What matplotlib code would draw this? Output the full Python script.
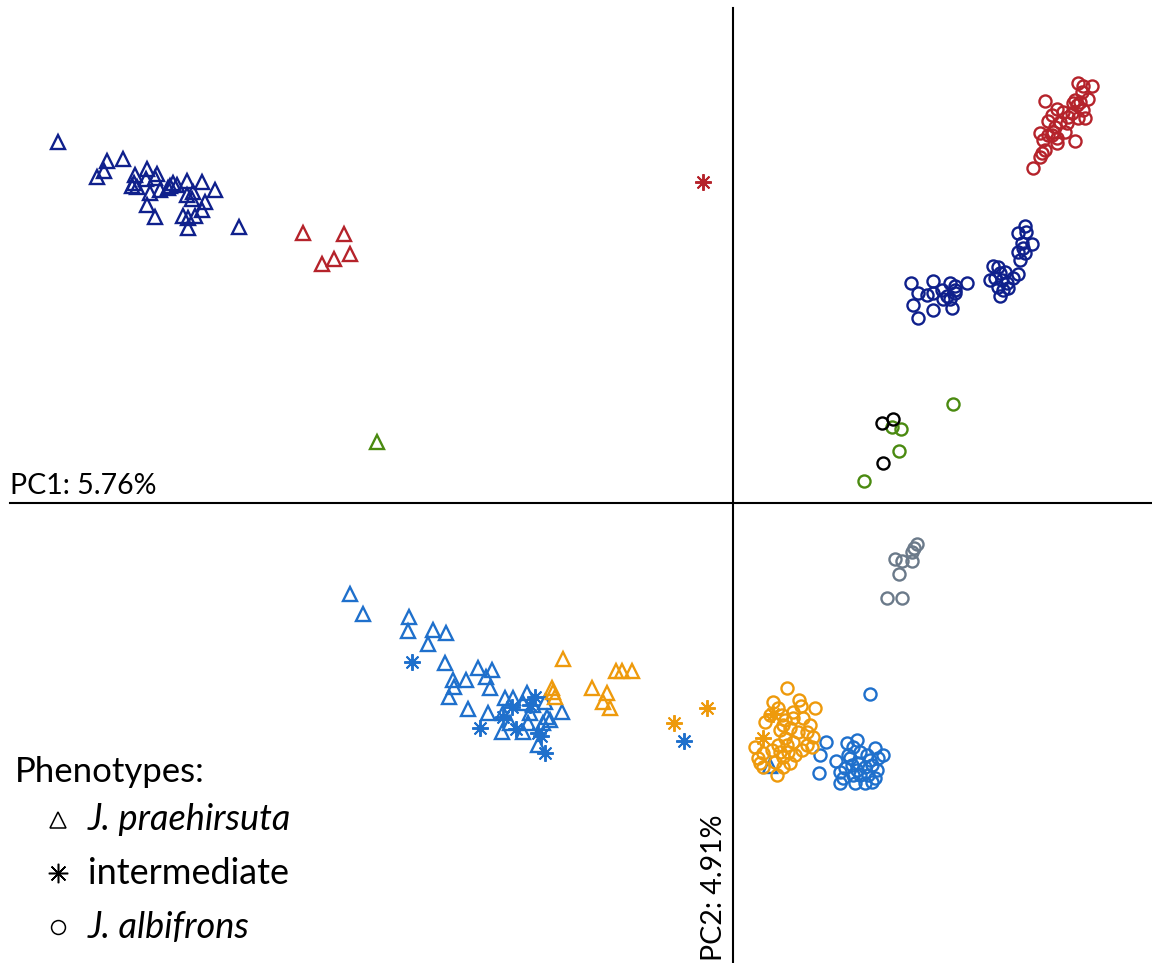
import numpy as np
import matplotlib

matplotlib.use('Agg')
import matplotlib.pyplot as plt

plt.rcParams['font.family'] = ['Lato', 'DejaVu Sans']

# PCA scores, grouped by population colour and phenotype marker
navy_tri_x = [-6.75, -6.26, -6.10, -6.29, -6.36, -5.98, -5.86, -5.76, -5.99, -5.96, -6.01, -5.87,
              -5.78, -5.73, -5.83, -5.65, -5.60, -5.56, -5.46, -5.31, -5.18, -5.40, -5.46, -5.41,
              -5.28, -5.31, -5.86, -5.78, -5.50, -5.45, -5.38, -5.45, -4.94, -5.63]
navy_tri_y = [3.61, 3.42, 3.44, 3.32, 3.26, 3.28, 3.34, 3.29, 3.20, 3.16, 3.17, 3.24,
              3.25, 3.13, 3.10, 3.15, 3.20, 3.18, 3.22, 3.21, 3.13, 3.11, 3.08, 3.04,
              3.01, 2.93, 2.98, 2.86, 2.87, 2.85, 2.87, 2.75, 2.76, 3.17]

red_tri_x = [-4.30, -3.89, -3.83, -3.99, -4.11]
red_tri_y = [2.70, 2.69, 2.49, 2.44, 2.39]
red_ast_x = [-0.30]
red_ast_y = [3.21]
green_tri_x = [-3.56]
green_tri_y = [0.61]

red_circ_x = [3.45, 3.50, 3.59, 3.49, 3.55, 3.12, 3.42, 3.47, 3.44, 3.24, 3.50, 3.30,
              3.39, 3.19, 3.35, 3.52, 3.45, 3.15, 3.27, 3.34, 3.22, 3.32, 3.20, 3.07,
              3.15, 3.24, 3.10, 3.42, 3.24, 3.12, 3.09, 3.07, 3.00, 3.40, 3.19]
red_circ_y = [4.20, 4.17, 4.17, 4.11, 4.04, 4.02, 4.03, 4.01, 3.98, 3.94, 3.93, 3.91,
              3.90, 3.88, 3.86, 3.85, 3.85, 3.82, 3.81, 3.80, 3.76, 3.71, 3.71, 3.70,
              3.68, 3.65, 3.63, 3.62, 3.60, 3.53, 3.50, 3.46, 3.35, 4.00, 3.68]

navy_circ_x = [2.92, 2.85, 2.93, 2.89, 2.99, 2.85, 2.92, 2.87, 2.90,
               2.60, 2.65, 2.57, 2.67, 2.72, 2.85, 2.80, 2.69, 2.74, 2.65, 2.75, 2.70, 2.67, 2.62,
               1.78, 2.00, 2.34, 2.17, 2.22, 1.85, 1.94, 2.00, 2.09, 2.14, 2.22, 2.10, 2.17,
               1.80, 2.00, 2.19, 1.85, 2.22]
navy_circ_y = [2.77, 2.70, 2.71, 2.60, 2.59, 2.51, 2.50, 2.43, 2.55,
               2.37, 2.36, 2.23, 2.30, 2.31, 2.29, 2.25, 2.23, 2.20, 2.16, 2.15, 2.13, 2.07, 2.25,
               2.20, 2.22, 2.20, 2.20, 2.17, 2.10, 2.08, 2.10, 2.13, 2.07, 2.10, 2.04, 2.04,
               1.98, 1.93, 1.95, 1.85, 2.13]

green_circ_x = [2.20, 1.59, 1.68, 1.66, 1.31]
green_circ_y = [0.99, 0.76, 0.74, 0.52, 0.22]
black_circ_x = [1.49, 1.60, 1.50]
black_circ_y = [0.80, 0.84, 0.40]

grey_circ_x = [1.84, 1.81, 1.79, 1.62, 1.69, 1.79, 1.66, 1.54, 1.69]
grey_circ_y = [-0.41, -0.45, -0.49, -0.56, -0.58, -0.58, -0.71, -0.95, -0.95]

blue_tri_x = [-3.83, -3.70, -3.24, -3.25, -3.00, -2.87, -3.05, -2.88, -2.55, -2.41, -2.47, -2.80,
              -2.67, -2.79, -2.43, -2.84, -2.28, -2.20, -2.06, -2.10, -1.88, -2.65, -2.45, -2.30,
              -2.03, -1.86, -1.71, -1.90, -2.05, -2.31, -2.10, -1.95, -1.83, -2.00, -2.23, 0.37]
blue_tri_y = [-0.91, -1.11, -1.14, -1.28, -1.27, -1.30, -1.41, -1.60, -1.65, -1.67, -1.74, -1.77,
              -1.77, -1.84, -1.85, -1.94, -1.95, -1.95, -1.90, -2.00, -1.99, -2.06, -2.10, -2.10,
              -2.10, -2.14, -2.09, -2.20, -2.20, -2.29, -2.29, -2.42, -2.17, -2.02, -2.20, -2.63]
blue_ast_x = [-3.21, -2.21, -2.30, -2.53, -2.17, -2.03, -1.98, -1.95, -1.92, -1.88, -0.49]
blue_ast_y = [-1.59, -2.04, -2.14, -2.25, -2.26, -2.02, -1.94, -2.30, -2.33, -2.50, -2.38]
blue_circ_x = [1.37, 0.93, 0.87, 1.03, 0.86, 1.14, 1.24, 1.20, 1.15, 1.27, 1.34, 1.42,
               1.50, 1.45, 1.07, 1.12, 1.19, 1.25, 1.32, 1.39, 1.44, 1.20, 1.27, 1.35,
               1.42, 1.07, 1.22, 1.32, 1.39, 1.17, 1.24, 1.10, 1.37]
blue_circ_y = [-1.91, -2.39, -2.52, -2.58, -2.70, -2.40, -2.37, -2.44, -2.52, -2.49, -2.52, -2.45,
               -2.52, -2.55, -2.69, -2.65, -2.62, -2.60, -2.64, -2.62, -2.67, -2.72, -2.72, -2.72,
               -2.75, -2.80, -2.80, -2.80, -2.79, -2.55, -2.67, -2.75, -2.57]

orange_tri_x = [-1.70, -1.17, -1.11, -1.01, -1.81, -1.80, -1.78, -1.41, -1.26, -1.30, -1.23]
orange_tri_y = [-1.56, -1.68, -1.68, -1.68, -1.85, -1.89, -1.94, -1.85, -1.90, -1.99, -2.05]
orange_ast_x = [-0.59, -0.26, 0.40, 0.30]
orange_ast_y = [-2.20, -2.05, -2.11, -2.35]
orange_circ_x = [0.54, 0.40, 0.66, 0.68, 0.82, 0.32, 0.49, 0.52, 0.60, 0.70, 0.77, 0.47,
                 0.57, 0.65, 0.74, 0.80, 0.22, 0.52, 0.60, 0.45, 0.74, 0.79, 0.30, 0.39,
                 0.55, 0.50, 0.62, 0.27, 0.42, 0.57, 0.30, 0.50, 0.44, 0.25, 0.47, 0.54,
                 0.69, 0.50, 0.60, 0.45, 0.37]
orange_circ_y = [-1.85, -1.99, -1.97, -2.03, -2.05, -2.19, -2.12, -2.17, -2.15, -2.15, -2.22, -2.27,
                 -2.25, -2.29, -2.29, -2.34, -2.44, -2.35, -2.39, -2.42, -2.42, -2.44, -2.50, -2.47,
                 -2.49, -2.54, -2.52, -2.60, -2.59, -2.60, -2.64, -2.64, -2.72, -2.55, -2.49, -2.42,
                 -2.47, -2.22, -2.09, -2.05, -2.12]

pc1_label = 'PC1: 5.76%'
pc2_label = 'PC2: 4.91%'
legend_title = 'Phenotypes:'
legend_names = ['J. praehirsuta', 'intermediate', 'J. albifrons']

NAVY = '#0f208c'
RED = '#b5232b'
GREEN = '#4a8a10'
BLUE = '#1f70cc'
ORANGE = '#ee9a0c'
GREY = '#6b7a8a'
ASTER = (8, 2, 0)

fig = plt.figure(figsize=(11.52, 9.63), dpi=100)
ax = fig.add_axes([0, 0, 1, 1])
ax.set_xlim(-7.33, 4.19)
ax.set_ylim(-4.60, 5.03)
ax.axis('off')

def tri(x, y, c):
    ax.plot(x, y, ls='none', marker='^', ms=10.5, mfc='none', mec=c, mew=1.7)

def circ(x, y, c):
    ax.plot(x, y, ls='none', marker='o', ms=8.7, mfc='none', mec=c, mew=1.7)

def ast(x, y, c):
    ax.plot(x, y, ls='none', marker=ASTER, ms=12, mfc=c, mec=c, mew=1.4)

tri(navy_tri_x, navy_tri_y, NAVY)
tri(red_tri_x, red_tri_y, RED)
tri(green_tri_x, green_tri_y, GREEN)
ast(red_ast_x, red_ast_y, RED)
circ(red_circ_x, red_circ_y, RED)
circ(navy_circ_x, navy_circ_y, NAVY)
circ(green_circ_x, green_circ_y, GREEN)
circ(black_circ_x, black_circ_y, 'black')
circ(grey_circ_x, grey_circ_y, GREY)
tri(blue_tri_x, blue_tri_y, BLUE)
ast(blue_ast_x, blue_ast_y, BLUE)
circ(blue_circ_x, blue_circ_y, BLUE)
circ(orange_circ_x, orange_circ_y, ORANGE)
tri(orange_tri_x, orange_tri_y, ORANGE)
ast(orange_ast_x, orange_ast_y, ORANGE)

# axes drawn as crossing lines through the origin
ax.plot([-7.23, 4.19], [0, 0], color='black', lw=1.5)
ax.plot([0, 0], [4.95, -4.60], color='black', lw=1.5)

ax.text(-7.23, 0.04, pc1_label, fontsize=20.5, ha='left', va='bottom')
ax.text(-0.06, -4.58, pc2_label, fontsize=20.5, rotation=90, ha='right', va='bottom')

# phenotype key
fig.text(15 / 1152, 1 - 772 / 963, legend_title, fontsize=25, ha='left', va='center')
key_markers = ['^', ASTER, 'o']
key_size = [12, 14, 10]
key_y = [820, 873, 927]
for m, s, name, py in zip(key_markers, key_size, legend_names, key_y):
    yf = 1 - py / 963
    fig.lines.append(plt.Line2D([58 / 1152], [yf], transform=fig.transFigure, ls='none',
                                marker=m, ms=s, mfc='none' if m != ASTER else 'black',
                                mec='black', mew=1.1))
    style = 'normal' if name == 'intermediate' else 'italic'
    fig.text(88 / 1152, yf, name, fontsize=26, style=style, ha='left', va='center')

plt.savefig('out.png', dpi=100)
